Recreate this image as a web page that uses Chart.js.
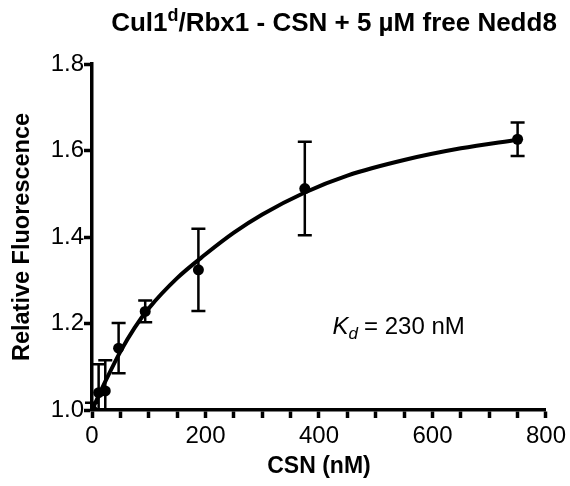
<!DOCTYPE html>
<html>
<head>
<meta charset="utf-8">
<script src="https://cdn.jsdelivr.net/npm/chart.js@4"></script>
<style>
  html, body { margin: 0; padding: 0; background: #fff; }
  #wrap { width: 570px; height: 486px; }
</style>
</head>
<body>
<div id="wrap"><canvas id="chart" width="570" height="486"></canvas></div>
<script>
// measured points (CSN, nM) with mean +/- error
const csnConc = [0, 11.7, 23.4, 46.9, 93.75, 187.5, 375, 750];
const relFluor = [1.0, 1.04, 1.044, 1.143, 1.228, 1.324, 1.512, 1.626];
const relFluorErr = [0.017, 0.066, 0.071, 0.058, 0.025, 0.095, 0.108, 0.039];

// fitted binding curve
const fitConc = [0, 25, 50, 75, 100, 150, 200, 250, 300, 375, 450, 550, 650, 750];
const fitFluor = [1.0, 1.07, 1.135, 1.19, 1.235, 1.305, 1.36, 1.41, 1.452, 1.503, 1.542, 1.578, 1.605, 1.625];

const xLabelTicks = [0, 200, 400, 600, 800];
const kdLabel = '= 230 nM';

const FONT = '"Liberation Sans", Arial, Helvetica, sans-serif';

// error bars drawn from the scales
const errorBars = {
  id: 'errorBars',
  afterDatasetsDraw(chart) {
    const { ctx, scales: { x, y }, chartArea } = chart;
    ctx.save();
    ctx.beginPath();
    ctx.rect(0, 0, chart.width, chartArea.bottom);
    ctx.clip();
    ctx.strokeStyle = '#000';
    ctx.lineWidth = 2.5;
    csnConc.forEach((c, i) => {
      const px = x.getPixelForValue(c);
      const top = y.getPixelForValue(relFluor[i] + relFluorErr[i]);
      const bot = y.getPixelForValue(relFluor[i] - relFluorErr[i]);
      ctx.beginPath();
      ctx.moveTo(px, top); ctx.lineTo(px, bot);
      ctx.moveTo(px - 7, top); ctx.lineTo(px + 7, top);
      ctx.moveTo(px - 7, bot); ctx.lineTo(px + 7, bot);
      ctx.stroke();
    });
    ctx.restore();
  }
};

// title with superscript and Kd annotation
const texts = {
  id: 'texts',
  afterDraw(chart) {
    const { ctx, scales: { x, y } } = chart;
    ctx.save();
    ctx.fillStyle = '#000';
    ctx.textBaseline = 'alphabetic';

    // title
    const big = 'bold 26px ' + FONT;
    const small = 'bold 18px ' + FONT;
    const parts = [['Cul1', big, 0], ['d', small, -10], ['/Rbx1 - CSN + 5 µM free Nedd8', big, 0]];
    let w = 0;
    parts.forEach(p => { ctx.font = p[1]; w += ctx.measureText(p[0]).width; });
    let cx = 334 - w / 2;
    parts.forEach(p => {
      ctx.font = p[1];
      ctx.fillText(p[0], cx, 31 + p[2]);
      cx += ctx.measureText(p[0]).width;
    });

    // Kd annotation
    let kx = x.getPixelForValue(424);
    const ky = y.getPixelForValue(1.176);
    ctx.font = 'italic 24px ' + FONT;
    ctx.fillText('K', kx, ky);
    kx += ctx.measureText('K').width;
    ctx.font = 'italic 17px ' + FONT;
    ctx.fillText('d', kx, ky + 5);
    kx += ctx.measureText('d').width + 6;
    ctx.font = '24px ' + FONT;
    ctx.fillText(kdLabel, kx, ky);
    ctx.restore();
  }
};

new Chart(document.getElementById('chart'), {
  type: 'scatter',
  data: {
    datasets: [
      {
        label: 'fit',
        data: fitConc.map((c, i) => ({ x: c, y: fitFluor[i] })),
        showLine: true,
        borderColor: '#000',
        borderWidth: 4,
        pointRadius: 0,
        cubicInterpolationMode: 'monotone',
        order: 2
      },
      {
        label: 'data',
        data: csnConc.map((c, i) => ({ x: c, y: relFluor[i] })),
        showLine: false,
        backgroundColor: '#000',
        borderColor: '#000',
        pointRadius: 5.5,
        pointBorderWidth: 0,
        order: 1
      }
    ]
  },
  options: {
    responsive: false,
    animation: false,
    events: [],
    layout: { padding: { left: 0, top: 64, right: 23, bottom: 0 } },
    plugins: { legend: { display: false }, tooltip: { enabled: false } },
    scales: {
      x: {
        type: 'linear',
        min: 0, max: 800,
        afterFit(scale) { scale.height = 76; },
        afterBuildTicks(scale) {
          const t = [];
          for (let v = 0; v <= 800; v += 50) t.push({ value: v });
          scale.ticks = t;
        },
        ticks: {
          color: '#000',
          font: { family: FONT, size: 24 },
          padding: 4,
          maxRotation: 0,
          autoSkip: false,
          callback: v => xLabelTicks.includes(v) ? String(v) : ''
        },
        grid: { drawOnChartArea: false, drawTicks: true, tickLength: 8, tickWidth: 3.5, tickColor: '#000' },
        border: { display: true, color: '#000', width: 3.5 },
        title: { display: true, text: 'CSN (nM)', color: '#000', font: { family: FONT, size: 23, weight: 'bold' }, padding: { top: 0, bottom: 6 } }
      },
      y: {
        type: 'linear',
        min: 1.0, max: 1.8,
        afterFit(scale) { scale.width = 92; },
        ticks: {
          stepSize: 0.2,
          color: '#000',
          font: { family: FONT, size: 24 },
          padding: 0,
          callback: v => v.toFixed(1)
        },
        grid: { drawOnChartArea: false, drawTicks: true, tickLength: 8, tickWidth: 3.5, tickColor: '#000' },
        border: { display: true, color: '#000', width: 3.5 },
        title: { display: true, text: 'Relative Fluorescence', color: '#000', font: { family: FONT, size: 23.5, weight: 'bold' }, padding: { top: 8, bottom: 0 } }
      }
    }
  },
  plugins: [errorBars, texts]
});
</script>
</body>
</html>
